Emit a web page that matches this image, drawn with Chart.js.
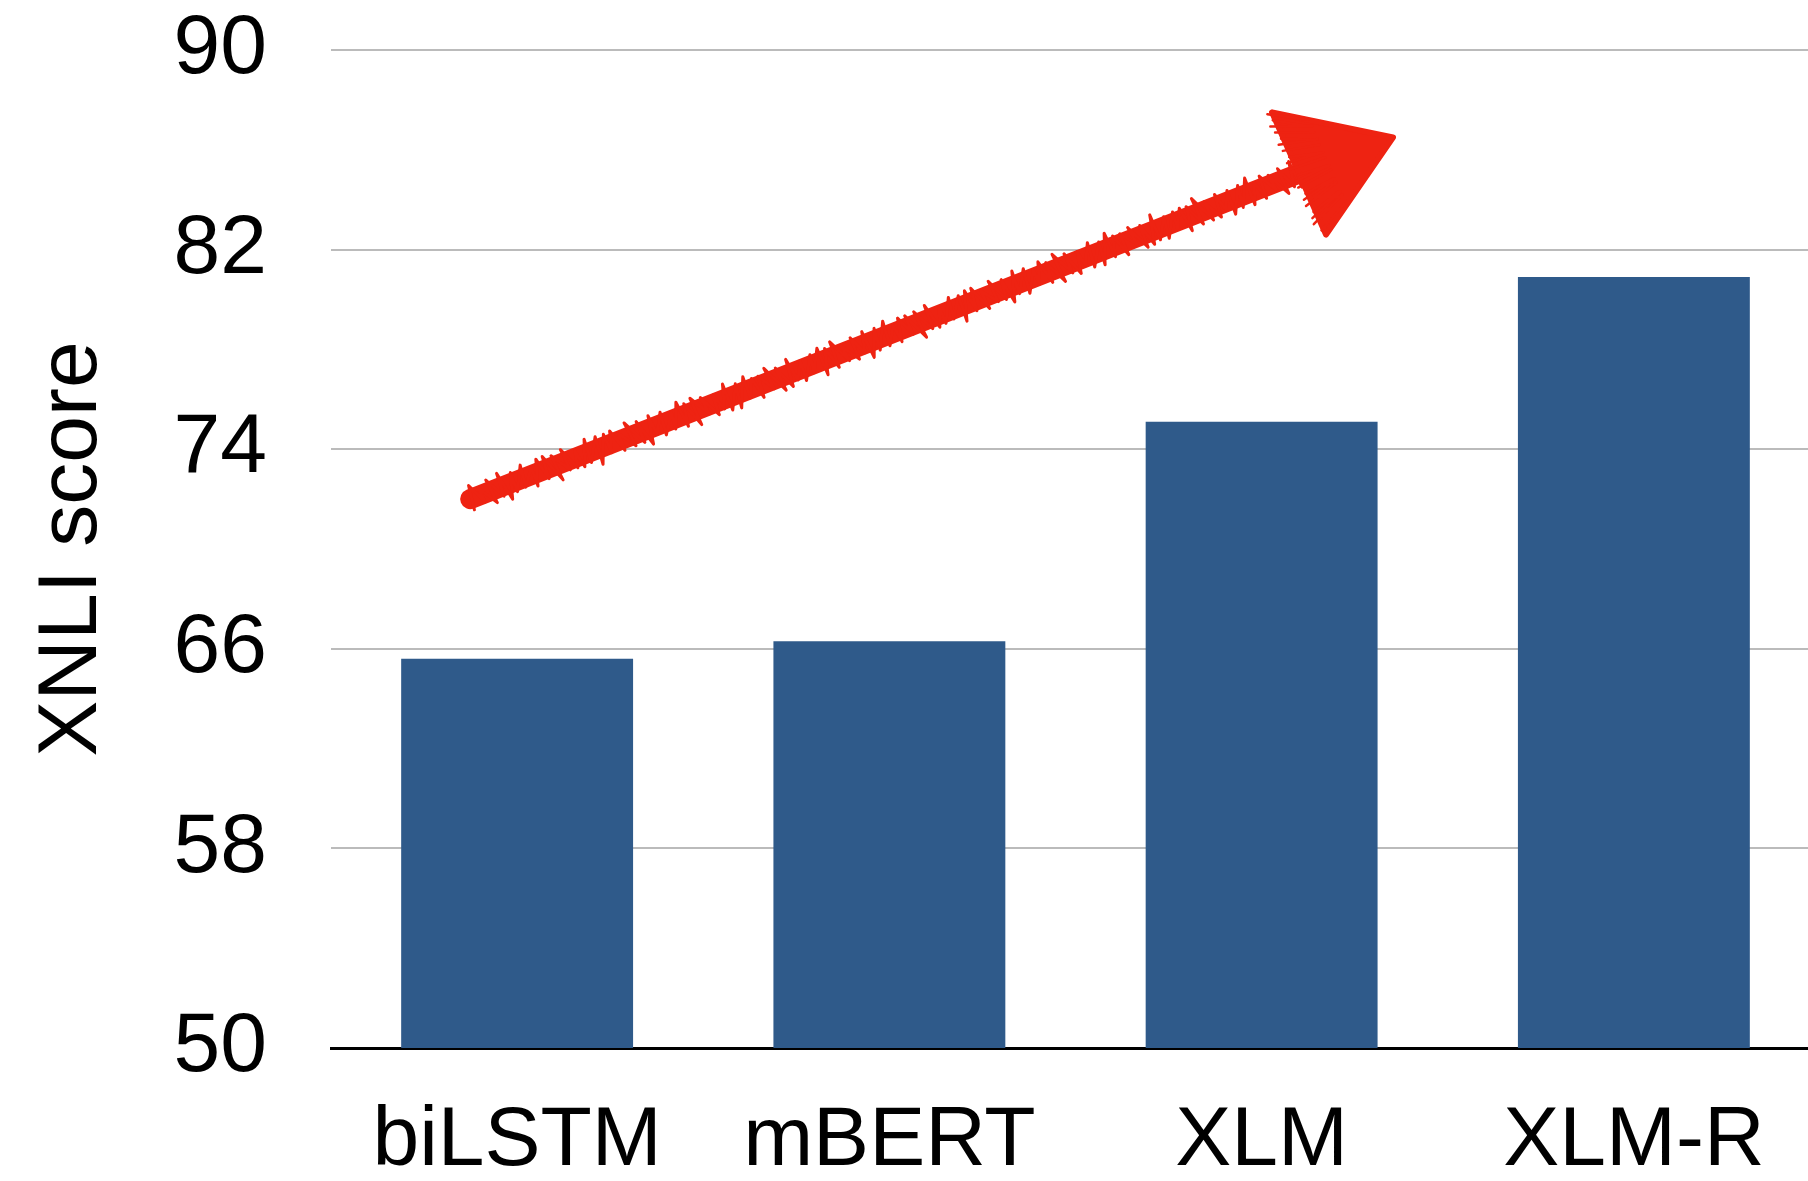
<!DOCTYPE html>
<html>
<head>
<meta charset="utf-8">
<title>XNLI score</title>
<script src="https://cdn.jsdelivr.net/npm/chart.js@4/dist/chart.umd.min.js"></script>
<style>
  html, body { margin: 0; padding: 0; background: #ffffff; overflow: hidden; }
  #wrap { width: 1820px; height: 1181px; }
</style>
</head>
<body>
<div id="wrap"><canvas id="chart" width="1820" height="1181"></canvas></div>
<script>
// Models and their XNLI accuracy
const models = ['biLSTM', 'mBERT', 'XLM', 'XLM-R'];
const xnliScores = [65.6, 66.3, 75.1, 80.9];
const yTicks = [50, 58, 66, 74, 82, 90];

// Trend arrow endpoints in (category index, score) space
const arrowTail = [-0.126, 72.0];
const arrowTip = [2.353, 86.5];
const arrowHeadTop = [2.028, 87.5];
const arrowHeadBottom = [2.173, 82.6];

const FONT = "'Liberation Sans', Arial, Helvetica, sans-serif";
const RED = '#ee2312';

// Hand-drawn looking red arrow on top of the bars
const sketchArrow = {
  id: 'sketchArrow',
  afterDatasetsDraw(chart) {
    const { ctx, scales: { x, y } } = chart;
    const px = p => [x.getPixelForValue(p[0]), y.getPixelForValue(p[1])];
    const [x0, y0] = px(arrowTail);
    const [x1, y1] = px(arrowTip);
    const [hx, hy] = px(arrowHeadTop);
    const [bx, by] = px(arrowHeadBottom);
    // where the shaft meets the head: middle of the head's back edge
    const sx = (hx + bx) / 2, sy = (hy + by) / 2;

    const dx = sx - x0, dy = sy - y0;
    const len = Math.hypot(dx, dy);
    const ux = dx / len, uy = dy / len;
    const nx = -uy, ny = ux;

    ctx.save();
    ctx.strokeStyle = RED;
    ctx.fillStyle = RED;
    ctx.lineCap = 'round';
    ctx.lineJoin = 'round';

    // solid core of the shaft
    ctx.lineWidth = 20;
    ctx.beginPath();
    ctx.moveTo(x0, y0);
    ctx.lineTo(sx + ux * 12, sy + uy * 12);
    ctx.stroke();

    // scribbled strokes across the shaft for a crayon edge
    ctx.lineWidth = 3;
    ctx.beginPath();
    let side = 1;
    for (let t = 0; t <= len; t += 5) {
      const wobble = 11.5 + 3 * Math.sin(t * 0.37) + 1.8 * Math.sin(t * 1.13);
      const cx = x0 + ux * t, cy = y0 + uy * t;
      const ex = cx + nx * wobble * side + ux * 4 * Math.sin(t * 0.71);
      const ey = cy + ny * wobble * side + uy * 4 * Math.sin(t * 0.71);
      if (t === 0) ctx.moveTo(ex, ey); else ctx.lineTo(ex, ey);
      side = -side;
    }
    ctx.stroke();

    // arrow head
    ctx.beginPath();
    ctx.moveTo(hx, hy);
    ctx.lineTo(x1, y1);
    ctx.lineTo(bx, by);
    ctx.closePath();
    ctx.fill();
    ctx.lineWidth = 6;
    ctx.stroke();

    // scribble texture along the head's edges
    ctx.lineWidth = 2.5;
    ctx.beginPath();
    for (let k = 0; k <= 1; k += 0.05) {
      const ax = hx + (bx - hx) * k, ay = hy + (by - hy) * k;
      const j = 3 * Math.sin(k * 41);
      ctx.moveTo(ax - ux * 5 + j, ay - uy * 5);
      ctx.lineTo(ax + (x1 - ax) * 0.3, ay + (y1 - ay) * 0.3 + j);
    }
    ctx.stroke();
    ctx.restore();
  }
};

new Chart(document.getElementById('chart'), {
  type: 'bar',
  data: {
    labels: models,
    datasets: [{
      label: 'XNLI score',
      data: xnliScores,
      backgroundColor: '#2f5a8a',
      borderWidth: 0,
      barPercentage: 0.623,
      categoryPercentage: 1.0
    }]
  },
  options: {
    responsive: false,
    animation: false,
    devicePixelRatio: 1,
    layout: { padding: { top: 50, right: 0, bottom: 0, left: 0 } },
    plugins: {
      legend: { display: false },
      tooltip: { enabled: false },
      title: { display: false }
    },
    scales: {
      x: {
        grid: { display: false, drawTicks: false },
        border: { display: true, color: '#000000', width: 3 },
        ticks: {
          color: '#000000',
          padding: 43,
          maxRotation: 0,
          autoSkip: false,
          font: { family: FONT, size: 84, lineHeight: 1.2 }
        },
        afterFit(scale) {
          scale.height = 133;
          scale.paddingLeft = 0;
          scale.paddingRight = 0;
        }
      },
      y: {
        min: 50,
        max: 90,
        afterBuildTicks(scale) { scale.ticks = yTicks.map(v => ({ value: v })); },
        grid: { color: '#bbbbbb', lineWidth: 2, drawTicks: false },
        border: { display: false },
        ticks: {
          color: '#000000',
          padding: 64,
          font: { family: FONT, size: 84, lineHeight: 1.2 }
        },
        title: {
          display: true,
          text: 'XNLI score',
          color: '#000000',
          padding: { top: 22, bottom: 0 },
          font: { family: FONT, size: 84, lineHeight: 1.2 }
        },
        afterFit(scale) {
          scale.width = 331;
          scale.paddingTop = 0;
          scale.paddingBottom = 0;
        }
      }
    }
  },
  plugins: [sketchArrow]
});
</script>
</body>
</html>
